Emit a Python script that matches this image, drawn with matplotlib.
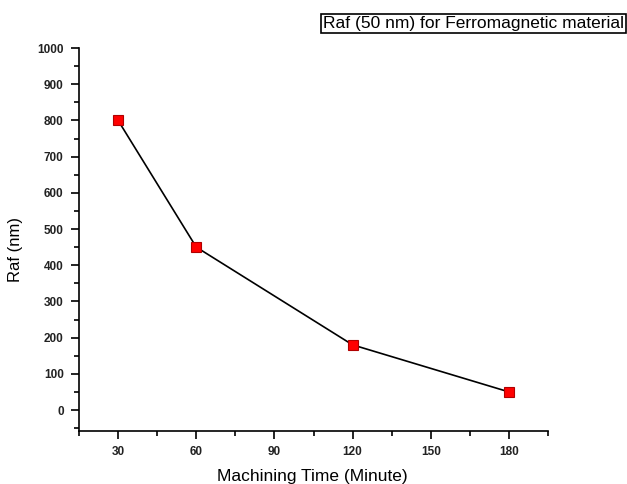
import matplotlib
matplotlib.use("Agg")
import matplotlib.pyplot as plt
from matplotlib.ticker import MultipleLocator

plt.rcParams['font.family'] = ['Liberation Sans', 'DejaVu Sans']

time_min = [30, 60, 120, 180]
raf_nm = [800, 450, 180, 50]
x_ticks = [30, 60, 90, 120, 150, 180]
y_ticks = [0, 100, 200, 300, 400, 500, 600, 700, 800, 900, 1000]

fig = plt.figure(figsize=(6.27, 4.84), dpi=100)
ax = fig.add_axes([0.126, 0.1095, 0.748, 0.7913])

ax.plot(time_min, raf_nm, color='black', lw=1.2, marker='s', markersize=7,
        markerfacecolor='#ff0000', markeredgecolor='#b00000', markeredgewidth=0.8)

ax.set_xlim(15, 195)
ax.set_ylim(-58, 1000)
ax.set_xticks(x_ticks)
ax.set_yticks(y_ticks)
ax.xaxis.set_minor_locator(MultipleLocator(15))
ax.yaxis.set_minor_locator(MultipleLocator(50))

for s in ['top', 'right']:
    ax.spines[s].set_visible(False)
for s in ['left', 'bottom']:
    ax.spines[s].set_linewidth(1.2)

ax.tick_params(which='major', direction='out', length=6, width=1.2, labelsize=8.5, pad=5)
ax.tick_params(which='minor', direction='out', length=3.5, width=1.2)
for lab in ax.get_xticklabels() + ax.get_yticklabels():
    lab.set_fontweight('bold')
    lab.set_color('#222222')

ax.set_xlabel('Machining Time (Minute)', fontsize=12.5)
ax.set_ylabel('Raf (nm)', fontsize=12)
ax.xaxis.set_label_coords(0.497, -0.119)
ax.yaxis.set_label_coords(-0.136, 0.473)
ax.xaxis.label.set_va('center')
ax.yaxis.label.set_va('center')

fig.text(0.995, 0.952, 'Raf (50 nm) for Ferromagnetic material', ha='right', va='center',
         fontsize=12.5, bbox=dict(boxstyle='square,pad=0.12', facecolor='white',
                                  edgecolor='black', linewidth=1.2))

fig.savefig('out.png', dpi=100)
